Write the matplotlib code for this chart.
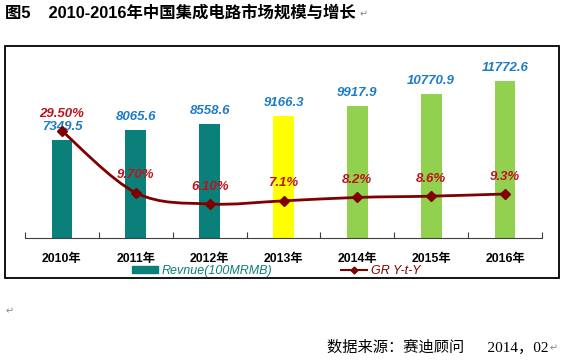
import matplotlib.pyplot as plt
import numpy as np
from matplotlib.path import Path
from matplotlib.patches import PathPatch, Rectangle, Patch
from matplotlib.lines import Line2D

years = ["2010年", "2011年", "2012年", "2013年", "2014年", "2015年", "2016年"]
revenue = [7349.5, 8065.6, 8558.6, 9166.3, 9917.9, 10770.9, 11772.6]
growth = [29.5, 9.7, 6.1, 7.1, 8.2, 8.6, 9.3]
growth_labels = ["29.50%", "9.70%", "6.10%", "7.1%", "8.2%", "8.6%", "9.3%"]
bar_colors = ["#0B7F79", "#0B7F79", "#0B7F79", "#FFFF00", "#92D050", "#92D050", "#92D050"]

teal = "#0B7F79"
line_red = "#7F0000"
lab_red = "#C0121C"
lab_blue = "#1E7BC6"
sans = ["Liberation Sans", "Noto Sans CJK SC"]

fig = plt.figure(figsize=(5.61, 3.63), dpi=100)
ax = fig.add_axes([25 / 561, 1 - 238 / 363, 517 / 561, 192 / 363])
ax2 = ax.twinx()

x = np.arange(len(years))
ax.bar(x, revenue, width=0.28, color=bar_colors, zorder=2)
ax.set_xlim(-0.5, len(years) - 0.5)
ax.set_ylim(0, 14400)
ax2.set_ylim(-4.8, 56.7)

for xi, v in zip(x, revenue):
    ax.annotate(f"{v}", (xi, v), xytext=(0, 9.5), textcoords="offset points",
                ha="center", va="center", color=lab_blue, fontsize=9.5,
                fontweight="bold", fontstyle="italic", family="Liberation Sans")

# smoothed line (excel-like catmull-rom -> bezier)
pts = np.column_stack([x, growth]).astype(float)
verts = [pts[0]]
codes = [Path.MOVETO]
n = len(pts)
for i in range(n - 1):
    p0 = pts[max(i - 1, 0)]
    p1 = pts[i]
    p2 = pts[i + 1]
    p3 = pts[min(i + 2, n - 1)]
    verts += [p1 + (p2 - p0) / 6, p2 - (p3 - p1) / 6, p2]
    codes += [Path.CURVE4] * 3
ax2.add_patch(PathPatch(Path(verts, codes), fill=False, edgecolor=line_red, lw=2, zorder=3))
ax2.plot(x, growth, ls="none", marker="D", ms=5, color=line_red, zorder=4)

for xi, g, t in zip(x, growth, growth_labels):
    ax2.annotate(t, (xi, g), xytext=(0, 12.5), textcoords="offset points",
                 ha="center", va="center", color=lab_red, fontsize=9.5,
                 fontweight="bold", fontstyle="italic", family="Liberation Sans")

for a in (ax, ax2):
    for s in ["top", "right", "left"]:
        a.spines[s].set_visible(False)
    a.set_yticks([])
ax2.spines["bottom"].set_visible(False)
ax.spines["bottom"].set_color("#404040")
ax.set_xticks(np.arange(-0.5, len(years)), labels=[""] * (len(years) + 1))
ax.tick_params(axis="x", which="major", direction="in", length=4, color="#404040")
ax.set_xticks(x, labels=years, minor=True)
ax.tick_params(axis="x", which="minor", length=0, pad=11)
for lab in ax.get_xticklabels(minor=True):
    lab.set_family(sans)
    lab.set_fontweight("bold")
    lab.set_fontsize(8.8)

handles = [Patch(color=teal), Line2D([], [], color=line_red, lw=1.5, marker="D", ms=3.5)]
leg = fig.legend(handles, ["Revnue(100MRMB)", "GR Y-t-Y"], loc="center",
                 bbox_to_anchor=(0.492, 1 - 271 / 363), ncol=2, frameon=False,
                 handlelength=2.1, handleheight=0.45, columnspacing=5.5, handletextpad=0.3,
                 prop={"family": "Liberation Sans", "style": "italic", "size": 9})
for t, c in zip(leg.get_texts(), [teal, line_red]):
    t.set_color(c)

fig.add_artist(Rectangle((5 / 561, 1 - 278 / 363), 554 / 561, 232 / 363,
                         transform=fig.transFigure, fill=False, ec="black", lw=1.3))

fig.text(5 / 561, 1 - 13 / 363, "图5    2010-2016年中国集成电路市场规模与增长", family=sans,
         fontweight="bold", fontsize=11.8, va="center", ha="left")
fig.text(360 / 561, 1 - 14 / 363, "↵", family="DejaVu Sans", fontsize=7, color="#888888", va="center")
fig.text(6 / 561, 1 - 311 / 363, "↵", family="DejaVu Sans", fontsize=7, color="#888888", va="center")
fig.text(327 / 561, 1 - 347 / 363, "数据来源：赛迪顾问      2014，02", family=["Liberation Serif", "Noto Sans CJK SC"],
         fontsize=11, va="center", ha="left")
fig.text(550 / 561, 1 - 348 / 363, "↵", family="DejaVu Sans", fontsize=7, color="#888888", va="center")

fig.savefig("out.png", dpi=100)
